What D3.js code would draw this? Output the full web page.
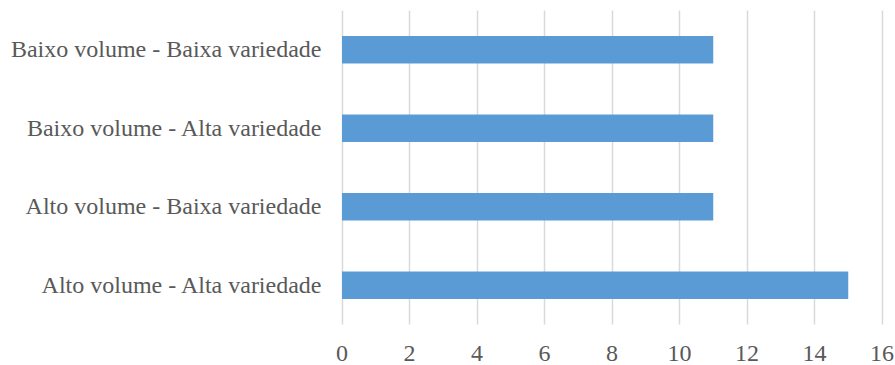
<!DOCTYPE html>
<html>
<head>
<meta charset="utf-8">
<script src="https://cdn.jsdelivr.net/npm/d3@7"></script>
<style>
  html, body { margin: 0; padding: 0; background: #fff; }
  svg { display: block; }
</style>
</head>
<body>
<svg id="chart" width="895" height="365"></svg>
<script>
// Categories listed top to bottom
const categories = [
  "Baixo volume - Baixa variedade",
  "Baixo volume - Alta variedade",
  "Alto volume - Baixa variedade",
  "Alto volume - Alta variedade"
];
const values = [11, 11, 11, 15];
const xTicks = [0, 2, 4, 6, 8, 10, 12, 14, 16];

const FONT = "Liberation Serif, Tinos, Times New Roman, Times, DejaVu Serif, serif";
const FONT_SIZE = "24px";
const TEXT_COLOR = "#595959";

const svg = d3.select("#chart");
const margin = { left: 341.5, right: 13.5, top: 10.5, bottom: 40.5 };
const W = 895, H = 365;

const x = d3.scaleLinear()
  .domain([0, 16])
  .range([margin.left, W - margin.right]);

const y = d3.scaleBand()
  .domain(categories)
  .range([margin.top, H - margin.bottom])
  .paddingInner(0.65)
  .paddingOuter(0.325);

// Vertical gridlines
svg.append("g")
  .selectAll("line")
  .data(xTicks)
  .join("line")
  .attr("x1", d => Math.round(x(d)) + 0.5)
  .attr("x2", d => Math.round(x(d)) + 0.5)
  .attr("y1", margin.top)
  .attr("y2", H - margin.bottom)
  .attr("stroke", "#d9d9d9")
  .attr("stroke-width", 1.5);

// Bars
svg.append("g")
  .selectAll("rect")
  .data(categories)
  .join("rect")
  .attr("x", x(0) + 0.5)
  .attr("y", d => y(d))
  .attr("width", (d, i) => x(values[i]) - x(0))
  .attr("height", y.bandwidth())
  .attr("fill", "#5b9bd5");

// X axis labels
const xAxis = d3.axisBottom(x).tickValues(xTicks).tickSize(0).tickPadding(0);
const gx = svg.append("g")
  .attr("transform", `translate(0,${H - margin.bottom})`)
  .call(xAxis)
  .attr("font-family", FONT)
  .attr("font-size", FONT_SIZE);
gx.select(".domain").remove();
gx.selectAll("text")
  .attr("dy", null)
  .attr("y", 36)
  .attr("fill", TEXT_COLOR);

// Y axis labels
const yAxis = d3.axisLeft(y).tickSize(0).tickPadding(0);
const gy = svg.append("g")
  .attr("transform", `translate(${margin.left - 20},0)`)
  .call(yAxis)
  .attr("font-family", FONT)
  .attr("font-size", FONT_SIZE);
gy.select(".domain").remove();
gy.selectAll("text")
  .attr("fill", TEXT_COLOR);
</script>
</body>
</html>
